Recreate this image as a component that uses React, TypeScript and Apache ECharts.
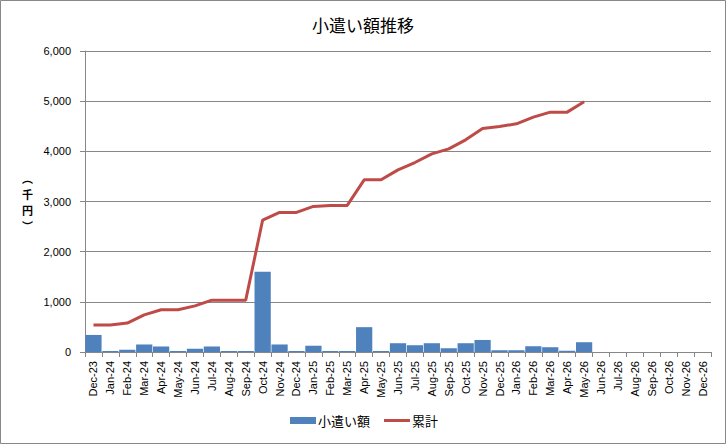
import React, { useEffect, useRef } from "react";
import * as echarts from "echarts";

const categories = [
  "Dec-23", "Jan-24", "Feb-24", "Mar-24", "Apr-24", "May-24", "Jun-24", "Jul-24", "Aug-24", "Sep-24",
  "Oct-24", "Nov-24", "Dec-24", "Jan-25", "Feb-25", "Mar-25", "Apr-25", "May-25", "Jun-25", "Jul-25",
  "Aug-25", "Sep-25", "Oct-25", "Nov-25", "Dec-25", "Jan-26", "Feb-26", "Mar-26", "Apr-26", "May-26",
  "Jun-26", "Jul-26", "Aug-26", "Sep-26", "Oct-26", "Nov-26", "Dec-26",
];

const amounts: (number | null)[] = [
  340, 20, 45, 150, 110, 20, 65, 110, 20, 20,
  1600, 150, 20, 125, 20, 20, 495, 20, 175, 135,
  175, 75, 175, 240, 35, 35, 115, 95, 25, 195,
  null, null, null, null, null, null, null,
];

const cumulative: (number | null)[] = [
  540, 540, 576, 741, 841, 841, 920, 1034, 1034, 1034,
  2630, 2783, 2783, 2902, 2922, 2922, 3432, 3432, 3631, 3777,
  3950, 4050, 4229, 4455, 4495, 4548, 4681, 4781, 4781, 4987,
  null, null, null, null, null, null, null,
];

const yTicks = { min: 0, max: 6000, interval: 1000 };

const TITLE = "小遣い額推移";
const BAR_NAME = "小遣い額";
const LINE_NAME = "累計";
const Y_NAME = "︵\n千\n円\n︶";

const JP = '"Noto Sans CJK JP", sans-serif';
const LAT = '"Liberation Sans", Arial, sans-serif';

const legendText = { fontFamily: JP, fontSize: 13, color: "#000", padding: [0, 0, 0, -3] };

export default function App() {
  const ref = useRef<HTMLDivElement>(null);
  useEffect(() => {
    document.body.style.margin = "0";
    const chart = echarts.init(ref.current!, null, { renderer: "svg" });
    chart.setOption({
      animation: false,
      backgroundColor: "#ffffff",
      title: {
        text: TITLE,
        left: "center",
        top: 11,
        textStyle: { fontFamily: JP, fontSize: 17, fontWeight: "normal", color: "#000" },
      },
      graphic: [
        {
          type: "rect",
          shape: { x: 0.5, y: 0.5, width: 725, height: 443 },
          style: { fill: "none", stroke: "#888888", lineWidth: 1 },
          silent: true,
        },
      ],
      legend: [
        {
          left: 290,
          top: 414,
          padding: 0,
          itemWidth: 26,
          itemHeight: 7,
          textStyle: legendText,
          data: [{ name: BAR_NAME, icon: "rect" }],
        },
        {
          left: 384,
          top: 414,
          padding: 0,
          itemWidth: 26,
          itemHeight: 3,
          textStyle: legendText,
          data: [{ name: LINE_NAME, icon: "rect" }],
        },
      ],
      grid: { left: 85, right: 15, top: 51, bottom: 92, containLabel: false },
      xAxis: {
        type: "category",
        data: categories,
        boundaryGap: true,
        axisLine: { show: true, lineStyle: { color: "#878787", width: 1 } },
        axisTick: { show: true, length: 5, interval: 0, lineStyle: { color: "#878787" } },
        axisLabel: {
          interval: 0,
          rotate: 90,
          margin: 9,
          fontFamily: LAT,
          fontSize: 11,
          color: "#000",
        },
        splitLine: { show: false },
      },
      yAxis: {
        type: "value",
        min: yTicks.min,
        max: yTicks.max,
        interval: yTicks.interval,
        name: Y_NAME,
        nameLocation: "middle",
        nameRotate: 0,
        nameGap: 52,
        nameTextStyle: { fontFamily: JP, fontSize: 11, fontWeight: "bold", color: "#000", lineHeight: 16 },
        axisLine: { show: true, lineStyle: { color: "#878787", width: 1 } },
        axisTick: { show: true, length: 5, lineStyle: { color: "#878787" } },
        axisLabel: {
          margin: 14,
          fontFamily: LAT,
          fontSize: 11,
          color: "#000",
          formatter: (v: number) => v.toLocaleString("en-US"),
        },
        splitLine: { show: true, lineStyle: { color: "#878787", width: 1 } },
      },
      series: [
        {
          name: BAR_NAME,
          type: "bar",
          data: amounts,
          barCategoryGap: "4%",
          itemStyle: { color: "#4F81BD" },
        },
        {
          name: LINE_NAME,
          type: "line",
          data: cumulative,
          symbol: "none",
          showSymbol: false,
          lineStyle: { color: "#BE4B48", width: 3 },
          itemStyle: { color: "#BE4B48" },
        },
      ],
    });
    return () => chart.dispose();
  }, []);
  return <div ref={ref} style={{ width: 726, height: 444 }} />;
}
